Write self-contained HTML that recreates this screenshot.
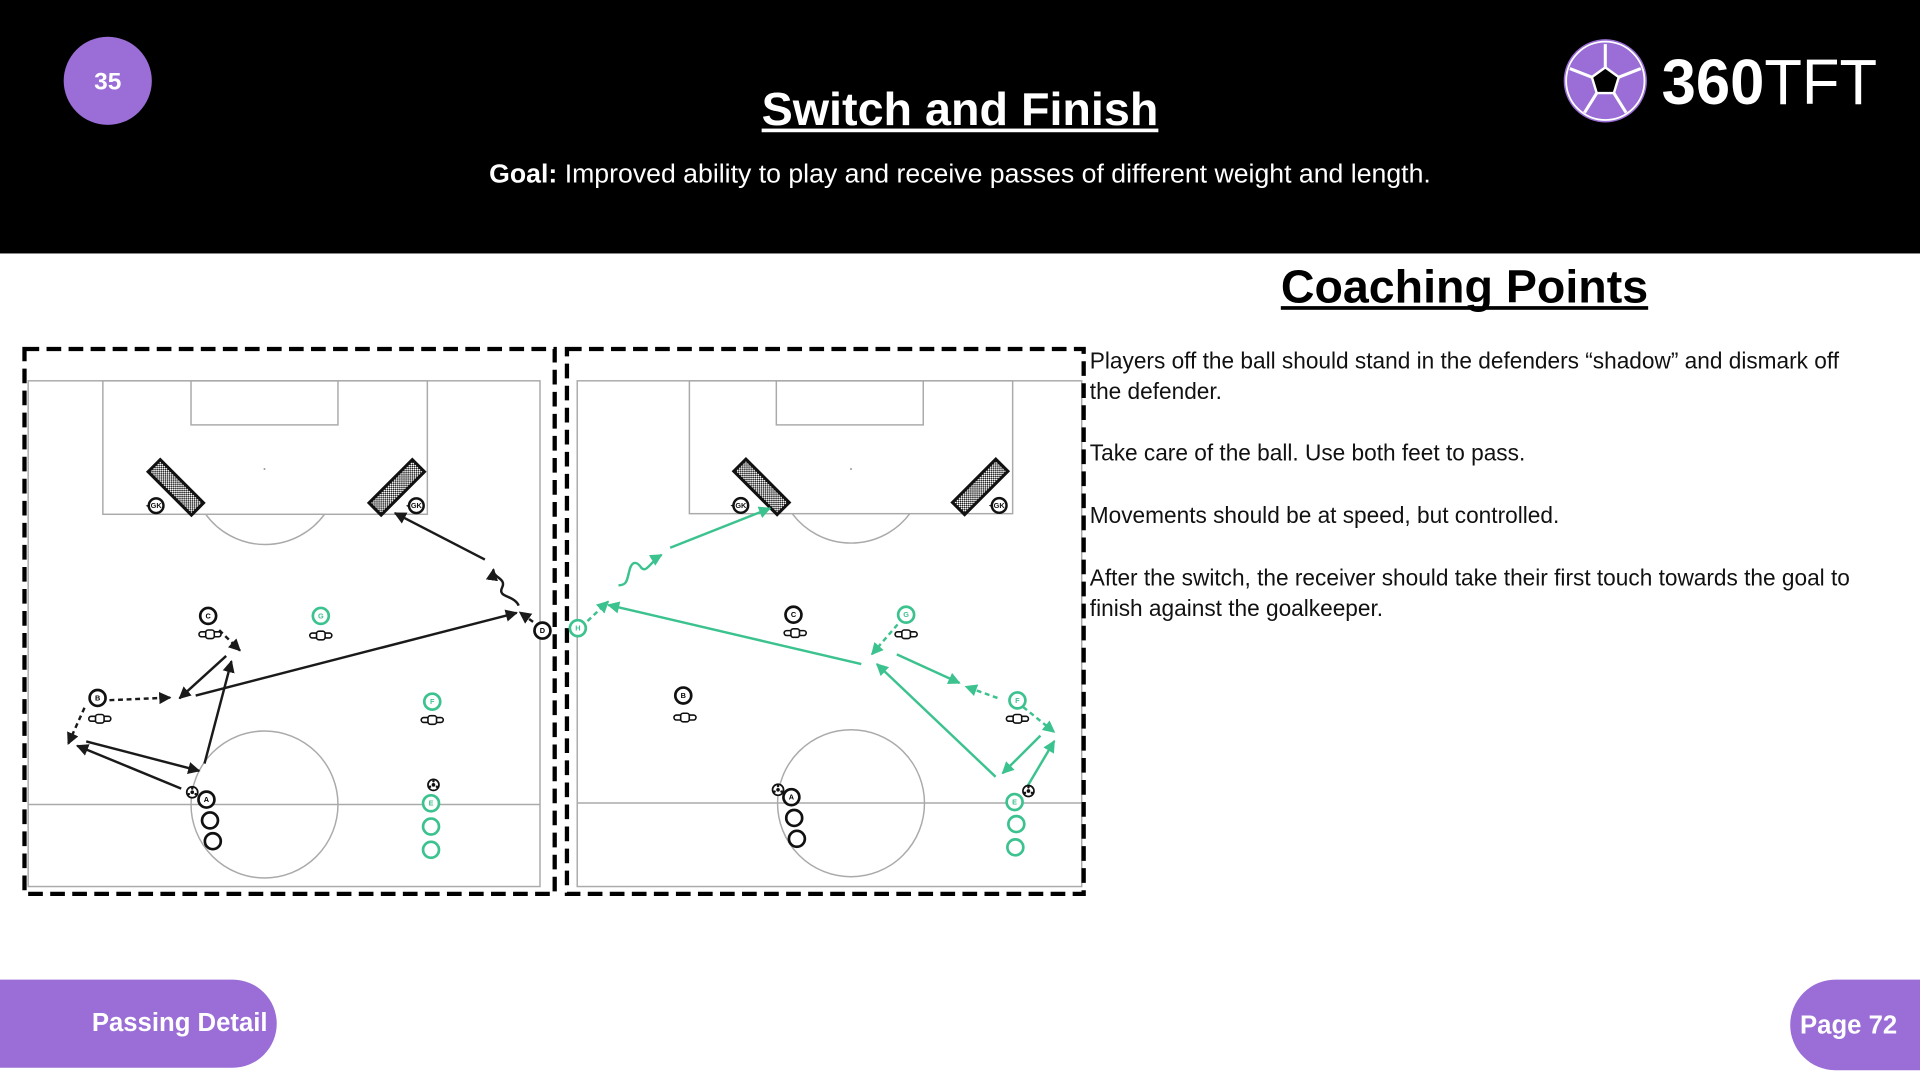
<!DOCTYPE html>
<html><head><meta charset="utf-8"><style>
html,body{margin:0;padding:0;background:#fff;}
svg{display:block;}
text{font-family:"Liberation Sans",Arial,sans-serif;}
</style></head><body>
<svg width="1920" height="1080" viewBox="0 0 1568 882" xmlns="http://www.w3.org/2000/svg">
<defs>
<marker id="ab" viewBox="0 0 10 10" refX="9" refY="5" markerWidth="10" markerHeight="10" markerUnits="userSpaceOnUse" orient="auto"><path d="M0,0 L10,5 L0,10 z" fill="#1a1a1a"/></marker>
<marker id="ag" viewBox="0 0 10 10" refX="9" refY="5" markerWidth="10" markerHeight="10" markerUnits="userSpaceOnUse" orient="auto"><path d="M0,0 L10,5 L0,10 z" fill="#3cc28f"/></marker>
<pattern id="net" width="2.4" height="2.4" patternUnits="userSpaceOnUse"><rect width="2.4" height="2.4" fill="#fff"/><rect width="1.2" height="1.2" fill="#222"/><rect x="1.2" y="1.2" width="1.2" height="1.2" fill="#222"/></pattern>
<g id="goalA"><rect x="-25" y="-7" width="50" height="14" fill="url(#net)" stroke="#111" stroke-width="2.5"/></g>
<g id="man"><rect x="-9" y="-2" width="18" height="4" rx="2" fill="#fff" stroke="#111" stroke-width="1.3"/><rect x="-3.5" y="-3.5" width="7" height="7" rx="2" fill="#fff" stroke="#111" stroke-width="1.3"/></g>
<g id="ball"><circle r="4.5" fill="#fff" stroke="#111" stroke-width="1.4"/><circle r="1.5" fill="#111"/><circle cx="0" cy="-3" r="1" fill="#111"/><circle cx="2.8" cy="1.5" r="1" fill="#111"/><circle cx="-2.8" cy="1.5" r="1" fill="#111"/></g>
<g id="gk"><circle r="6" fill="#fff" stroke="#111" stroke-width="2"/><text y="2" font-size="6" text-anchor="middle" font-weight="bold" fill="#111">GK</text><path d="M-6,-1 l-2.5,1 l2.5,1.5z" fill="#111"/></g>
</defs>

<rect x="0" y="0" width="1568" height="207" fill="#000"/>
<circle cx="88" cy="66" r="36" fill="#9a6dd7"/>
<text x="88" y="73" font-size="20" font-weight="bold" fill="#fff" text-anchor="middle">35</text>
<text x="784" y="102" font-size="38" font-weight="bold" fill="#fff" text-anchor="middle" textLength="324" lengthAdjust="spacingAndGlyphs">Switch and Finish</text>
<rect x="622" y="105" width="324" height="3" fill="#fff"/>
<text x="784" y="149" font-size="21" fill="#fff" text-anchor="middle" textLength="769" lengthAdjust="spacingAndGlyphs"><tspan font-weight="bold">Goal:</tspan> Improved ability to play and receive passes of different weight and length.</text>
<circle cx="1311" cy="66" r="34" fill="#9a6dd7"/>
<circle cx="1311" cy="66" r="32" fill="none" stroke="#fff" stroke-width="1.5"/>
<polygon points="1311,55 1322,63 1318,76 1304,76 1300,63" fill="#000" stroke="#fff" stroke-width="2"/>
<path d="M1311,55 L1311,36 M1322,63 L1340,56 M1318,76 L1328,92 M1304,76 L1294,92 M1300,63 L1282,56" stroke="#fff" stroke-width="2.5"/>
<text x="1357" y="85" font-size="52" fill="#fff" textLength="176" lengthAdjust="spacingAndGlyphs"><tspan font-weight="bold">360</tspan>TFT</text>

<text x="1196" y="247" font-size="38" font-weight="bold" fill="#000" text-anchor="middle" textLength="300" lengthAdjust="spacingAndGlyphs">Coaching Points</text>
<rect x="1046" y="250" width="300" height="3" fill="#000"/>
<g font-size="18.5" fill="#111">
<text x="890" y="301">Players off the ball should stand in the defenders “shadow” and dismark off</text>
<text x="890" y="326">the defender.</text>
<text x="890" y="376">Take care of the ball. Use both feet to pass.</text>
<text x="890" y="427">Movements should be at speed, but controlled.</text>
<text x="890" y="478">After the switch, the receiver should take their first touch towards the goal to</text>
<text x="890" y="503">finish against the goalkeeper.</text>
</g>

<path d="M0,800 H190 A36,36 0 0 1 190,872 H0 Z" fill="#9a6dd7"/>
<text x="75" y="842" font-size="21" font-weight="bold" fill="#fff">Passing Detail</text>
<path d="M1499,800 H1568 V874 H1499 A37,37 0 0 1 1499,800 Z" fill="#9a6dd7"/>
<text x="1470" y="844" font-size="21" font-weight="bold" fill="#fff">Page 72</text>

<g fill="none" stroke="#aaa" stroke-width="1.2">
<rect x="23" y="311" width="418" height="413"/>
<rect x="84" y="311" width="265" height="109"/>
<rect x="156" y="311" width="120" height="36"/>
<path d="M168,420 A60,60 0 0 0 265,420"/>
<line x1="23" y1="657" x2="441" y2="657"/>
<circle cx="216" cy="657" r="60"/>
</g>
<circle cx="216" cy="383" r="0.8" fill="#999"/>
<rect x="20" y="285" width="433" height="445" fill="none" stroke="#000" stroke-width="3.5" stroke-dasharray="12,6"/>
<use href="#goalA" transform="translate(143.6,398) rotate(45)"/>
<use href="#goalA" transform="translate(324,398) rotate(-45)"/>
<use href="#gk" x="127.5" y="413"/>
<use href="#gk" x="340" y="413"/>
<g stroke="#1a1a1a" stroke-width="2" fill="none">
<line x1="396" y1="457" x2="322.5" y2="419" marker-end="url(#ab)"/>
<path d="M423.6,494.6 C420,486 406,488 410,480 C414,472 402,472 403,465" marker-end="url(#ab)"/>
<line x1="441" y1="512" x2="424.5" y2="500" stroke-dasharray="4,3" marker-end="url(#ab)"/>
<line x1="159.8" y1="568" x2="422" y2="500.5" marker-end="url(#ab)"/>
<line x1="179" y1="514.6" x2="196" y2="531.3" stroke-dasharray="4,3" marker-end="url(#ab)"/>
<line x1="184.7" y1="535.7" x2="146.6" y2="570.3" marker-end="url(#ab)"/>
<line x1="167" y1="623.6" x2="189" y2="540" marker-end="url(#ab)"/>
<line x1="89.4" y1="571.8" x2="139" y2="569.7" stroke-dasharray="4,3" marker-end="url(#ab)"/>
<line x1="69" y1="578" x2="55.7" y2="607.5" stroke-dasharray="4,3" marker-end="url(#ab)"/>
<line x1="70.4" y1="605.5" x2="162.7" y2="629.5" marker-end="url(#ab)"/>
<line x1="148" y1="644" x2="63" y2="609" marker-end="url(#ab)"/>
</g>
<g stroke-width="2.2" fill="#fff">
<circle cx="170" cy="503" r="6.5" stroke="#111"/>
<circle cx="79.7" cy="570" r="6.5" stroke="#111"/>
<circle cx="443" cy="515" r="6.5" stroke="#111"/>
<circle cx="168.6" cy="653" r="6.5" stroke="#111"/>
<circle cx="171.5" cy="670" r="6.5" stroke="#111"/>
<circle cx="173.8" cy="687" r="6.5" stroke="#111"/>
<circle cx="262" cy="503" r="6.5" stroke="#3cc28f"/>
<circle cx="353" cy="573" r="6.5" stroke="#3cc28f"/>
<circle cx="352" cy="656" r="6.5" stroke="#3cc28f"/>
<circle cx="352" cy="675" r="6.5" stroke="#3cc28f"/>
<circle cx="352" cy="694" r="6.5" stroke="#3cc28f"/>
</g>
<g font-size="6" font-weight="bold" text-anchor="middle">
<text x="170" y="505">C</text><text x="79.7" y="572">B</text><text x="443" y="517">D</text><text x="168.6" y="655">A</text>
<text x="262" y="505" fill="#3cc28f">G</text><text x="353" y="575" fill="#3cc28f">F</text><text x="352" y="658" fill="#3cc28f">E</text>
</g>
<use href="#man" x="171.5" y="518"/>
<use href="#man" x="81.5" y="587"/>
<use href="#man" x="262" y="519"/>
<use href="#man" x="353" y="588"/>
<use href="#ball" x="157" y="647"/>
<use href="#ball" x="354" y="641"/>

<g fill="none" stroke="#aaa" stroke-width="1.2">
<rect x="471.4" y="311" width="412" height="413"/>
<rect x="563" y="311" width="264" height="108.5"/>
<rect x="634" y="311" width="120" height="36"/>
<path d="M647,419.5 A60,60 0 0 0 743,419.5"/>
<line x1="471.4" y1="655.8" x2="883.5" y2="655.8"/>
<circle cx="695" cy="656" r="60"/>
</g>
<circle cx="695" cy="383" r="0.8" fill="#999"/>
<rect x="463" y="285" width="422" height="445" fill="none" stroke="#000" stroke-width="3.5" stroke-dasharray="12,6"/>
<use href="#goalA" transform="translate(621.9,397.6) rotate(45)"/>
<use href="#goalA" transform="translate(800.5,397.6) rotate(-45)"/>
<use href="#gk" x="605" y="412.8"/>
<use href="#gk" x="816" y="412.8"/>
<g stroke="#3cc28f" stroke-width="2" fill="none">
<line x1="547.3" y1="447.3" x2="628.9" y2="415.1" marker-end="url(#ag)"/>
<path d="M505.1,478 C512,478 512,474 514,466 C516,458 520,458 524,464 C528,468 532,458 540.3,453.1" marker-end="url(#ag)"/>
<line x1="479.8" y1="507.2" x2="496.7" y2="491.2" stroke-dasharray="4,3" marker-end="url(#ag)"/>
<line x1="703.4" y1="542.3" x2="496.7" y2="494" marker-end="url(#ag)"/>
<line x1="733" y1="510" x2="712" y2="534.4" stroke-dasharray="4,3" marker-end="url(#ag)"/>
<line x1="732.4" y1="534.4" x2="783.6" y2="557.8" marker-end="url(#ag)"/>
<line x1="814.6" y1="570" x2="788.7" y2="560.7" stroke-dasharray="4,3" marker-end="url(#ag)"/>
<line x1="835.6" y1="577.4" x2="861" y2="597.9" stroke-dasharray="4,3" marker-end="url(#ag)"/>
<line x1="849.7" y1="600.8" x2="818.8" y2="631.5" marker-end="url(#ag)"/>
<line x1="838.4" y1="643.2" x2="861" y2="605.2" marker-end="url(#ag)"/>
<line x1="813.1" y1="634.4" x2="716.1" y2="542.3" marker-end="url(#ag)"/>
</g>
<g stroke-width="2.2" fill="#fff">
<circle cx="648" cy="502" r="6.5" stroke="#111"/>
<circle cx="558" cy="568" r="6.5" stroke="#111"/>
<circle cx="646.3" cy="651" r="6.5" stroke="#111"/>
<circle cx="648.6" cy="668" r="6.5" stroke="#111"/>
<circle cx="650.8" cy="685" r="6.5" stroke="#111"/>
<circle cx="740" cy="502" r="6.5" stroke="#3cc28f"/>
<circle cx="471.9" cy="513" r="6.5" stroke="#3cc28f"/>
<circle cx="830.9" cy="572" r="6.5" stroke="#3cc28f"/>
<circle cx="828.6" cy="655" r="6.5" stroke="#3cc28f"/>
<circle cx="830" cy="673" r="6.5" stroke="#3cc28f"/>
<circle cx="829.2" cy="692" r="6.5" stroke="#3cc28f"/>
</g>
<g font-size="6" font-weight="bold" text-anchor="middle">
<text x="648" y="504">C</text><text x="558" y="570">B</text><text x="646.3" y="653">A</text>
<text x="740" y="504" fill="#3cc28f">G</text><text x="471.9" y="515" fill="#3cc28f">H</text><text x="830.9" y="574" fill="#3cc28f">F</text><text x="828.6" y="657" fill="#3cc28f">E</text>
</g>
<use href="#man" x="649.4" y="517"/>
<use href="#man" x="559.4" y="586"/>
<use href="#man" x="740" y="518"/>
<use href="#man" x="830.9" y="587"/>
<use href="#ball" x="635.4" y="645"/>
<use href="#ball" x="839.9" y="646"/>
</svg>
</body></html>
